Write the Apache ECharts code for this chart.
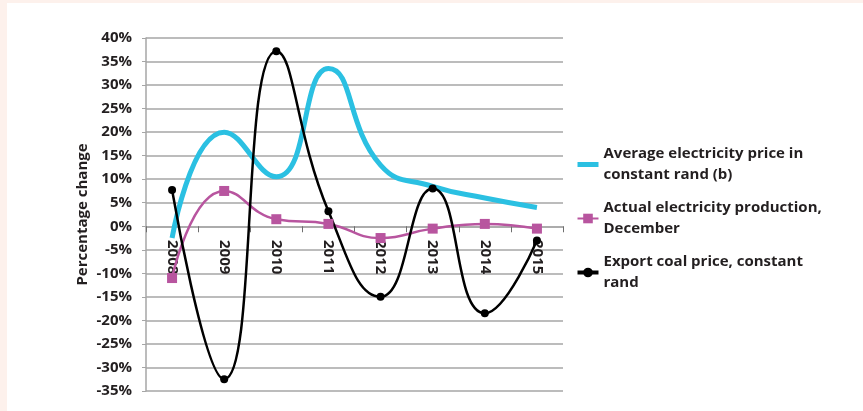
<!DOCTYPE html>
<html>
<head>
<meta charset="utf-8">
<script src="https://cdn.jsdelivr.net/npm/echarts@6/dist/echarts.min.js"></script>
<style>
  html, body { margin: 0; padding: 0; background: #fdf1ec; }
  #wrap { position: relative; width: 863px; height: 411px; background: #fdf1ec; overflow: hidden; }
  #chart { position: absolute; left: 7px; top: 3px; width: 856px; height: 408px; background: #ffffff; }
</style>
</head>
<body>
<div id="wrap"><div id="chart"></div></div>
<script>
const years = ['2008', '2009', '2010', '2011', '2012', '2013', '2014', '2015'];
const elecPrice = [-2.5, 20, 10.5, 33.5, 13, 8.5, 6, 4];
const elecProduction = [-11, 7.5, 1.5, 0.5, -2.5, -0.5, 0.5, -0.5];
const coalPrice = [7.7, -32.5, 37.2, 3.2, -15, 8, -18.5, -3];
const seriesNames = [
  'Average electricity price in\nconstant rand (b)',
  'Actual electricity production,\nDecember',
  'Export coal price, constant\nrand'
];

const font = '"Open Sans", sans-serif';
const ink = '#231f20';

const myChart = echarts.init(document.getElementById('chart'));

const option = {
  animation: false,
  backgroundColor: '#ffffff',
  textStyle: { fontFamily: font },
  grid: {
    left: 139,
    top: 35,
    width: 417,
    height: 353,
    containLabel: false,
    outerBoundsMode: 'none'
  },
  legend: {
    orient: 'vertical',
    left: 568,
    top: 130,
    padding: 0,
    itemGap: -9,
    itemWidth: 21,
    itemHeight: 12,
    textStyle: {
      fontFamily: font,
      fontSize: 15,
      fontWeight: 'bold',
      color: ink,
      lineHeight: 21,
      padding: [21, 0, 0, 0]
    },
    data: [
      { name: seriesNames[0], itemStyle: { opacity: 0 }, lineStyle: { width: 5 } },
      { name: seriesNames[1] },
      { name: seriesNames[2], lineStyle: { width: 4 } }
    ]
  },
  xAxis: {
    type: 'category',
    data: years,
    boundaryGap: true,
    axisLine: { onZero: true, lineStyle: { color: '#a6a6a6', width: 1.5 } },
    axisTick: { show: true, length: 6, inside: false, lineStyle: { color: '#6e6e6e', width: 1 } },
    axisLabel: {
      rotate: -90,
      // labels stay at the grid bottom, pull them up under the zero line
      margin: -151,
      interval: 0,
      fontFamily: font,
      fontSize: 15,
      fontWeight: 'bold',
      color: ink
    },
    splitLine: { show: false }
  },
  yAxis: {
    type: 'value',
    min: -35,
    max: 40,
    interval: 5,
    name: 'Percentage change',
    nameLocation: 'middle',
    nameGap: 56,
    nameTextStyle: {
      fontFamily: font,
      fontSize: 15,
      fontWeight: 'bold',
      color: ink
    },
    axisLine: { show: true, lineStyle: { color: '#a6a6a6', width: 1.5 } },
    axisTick: { show: true, length: 4, lineStyle: { color: '#a6a6a6' } },
    axisLabel: {
      margin: 14,
      fontFamily: font,
      fontSize: 15,
      fontWeight: 'bold',
      color: ink,
      formatter: v => v + '%'
    },
    splitLine: { show: true, lineStyle: { color: '#a6a6a6', width: 1.5 } }
  },
  series: [
    {
      name: seriesNames[0],
      type: 'line',
      smooth: 0.5,
      symbol: 'none',
      data: elecPrice,
      lineStyle: { color: '#2bc0e2', width: 5 },
      itemStyle: { color: '#2bc0e2' }
    },
    {
      name: seriesNames[1],
      type: 'line',
      smooth: 0.5,
      symbol: 'rect',
      symbolSize: 10,
      data: elecProduction,
      lineStyle: { color: '#b8559f', width: 2.5 },
      itemStyle: { color: '#b8559f' }
    },
    {
      name: seriesNames[2],
      type: 'line',
      smooth: 0.5,
      symbol: 'circle',
      symbolSize: 8,
      data: coalPrice,
      lineStyle: { color: '#000000', width: 2.5 },
      itemStyle: { color: '#000000' }
    }
  ]
};

myChart.setOption(option);
window.addEventListener('resize', () => myChart.resize());
</script>
</body>
</html>
